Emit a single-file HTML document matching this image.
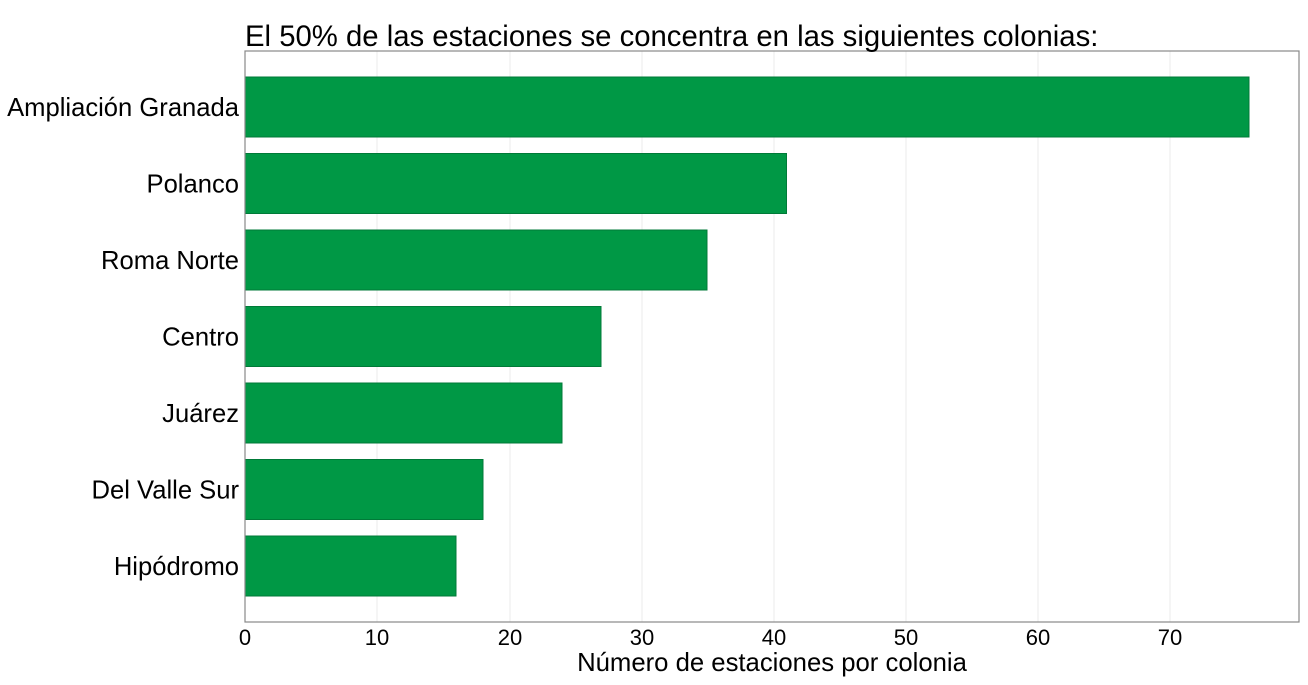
<!DOCTYPE html><html><head><meta charset="utf-8"><style>body{margin:0;background:#fff}</style></head><body>
<svg width="1308" height="680" xmlns="http://www.w3.org/2000/svg" font-family="Liberation Sans, sans-serif">
<rect width="1308" height="680" fill="#fff"/>
<g stroke="#ebebeb" stroke-width="1">
<line x1="377" y1="51" x2="377" y2="622"/><line x1="510" y1="51" x2="510" y2="622"/><line x1="642" y1="51" x2="642" y2="622"/><line x1="774" y1="51" x2="774" y2="622"/><line x1="906" y1="51" x2="906" y2="622"/><line x1="1038" y1="51" x2="1038" y2="622"/><line x1="1170" y1="51" x2="1170" y2="622"/>
</g>
<g fill="#009845" stroke="#007a38" stroke-width="1">
<rect x="245" y="77" width="1004" height="60"/>
<rect x="245" y="153.5" width="541.5" height="60"/>
<rect x="245" y="230" width="462" height="60"/>
<rect x="245" y="306.5" width="356" height="60"/>
<rect x="245" y="383" width="317" height="60"/>
<rect x="245" y="459.5" width="238" height="60"/>
<rect x="245" y="536" width="211" height="60"/>
</g>
<rect x="245" y="51" width="1054" height="571" fill="none" stroke="#888" stroke-width="1.2"/>
<text x="245" y="46" font-size="29.3">El 50% de las estaciones se concentra en las siguientes colonias:</text>
<g font-size="25.6" text-anchor="end">
<text x="239" y="116">Ampliación Granada</text>
<text x="239" y="192.5">Polanco</text>
<text x="239" y="269">Roma Norte</text>
<text x="239" y="345.5">Centro</text>
<text x="239" y="422">Juárez</text>
<text x="239" y="498.5">Del Valle Sur</text>
<text x="239" y="575">Hipódromo</text>
</g>
<g font-size="22" text-anchor="middle">
<text x="245" y="645">0</text><text x="377" y="645">10</text><text x="510" y="645">20</text><text x="642" y="645">30</text><text x="774" y="645">40</text><text x="906" y="645">50</text><text x="1038" y="645">60</text><text x="1170" y="645">70</text>
</g>
<text x="772" y="671" font-size="25.7" text-anchor="middle">Número de estaciones por colonia</text>
</svg>
</body></html>
